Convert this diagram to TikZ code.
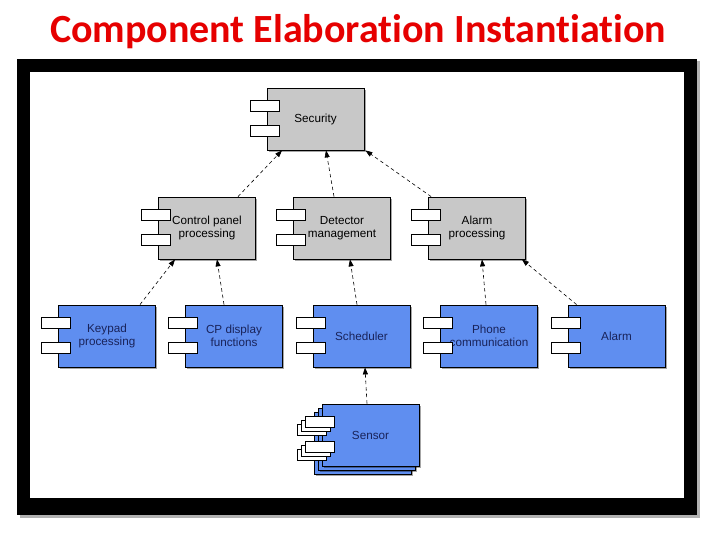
\documentclass[tikz,border=0pt]{standalone}
\usepackage{fontspec}
\setmainfont{Liberation Sans}
\newfontfamily\titlefont[Ligatures=NoCommon]{Carlito}
\usetikzlibrary{arrows.meta,shadows}
\definecolor{titlered}{RGB}{230,0,0}
\definecolor{boxgray}{RGB}{200,200,200}
\definecolor{boxblue}{RGB}{95,142,240}
\definecolor{navytext}{RGB}{25,35,90}
\newcommand\compports[1]{%
  \draw[port] ([xshift=-16.5pt,yshift=-13pt]#1.north west) rectangle ++(29pt,-11pt);
  \draw[port] ([xshift=-16.5pt,yshift=-38pt]#1.north west) rectangle ++(29pt,-11pt);}
\begin{document}
\begin{tikzpicture}[x=1pt,y=-1pt,
  comp/.style={draw=black, line width=0.8pt, minimum width=97pt, minimum height=62pt,
    inner sep=0pt, align=center, font=\fontsize{11.7}{13.5}\selectfont,
    drop shadow={shadow xshift=1.5pt, shadow yshift=-2pt, opacity=0.35, fill=black}},
  graycomp/.style={comp, fill=boxgray, text=black},
  bluecomp/.style={comp, fill=boxblue, text=navytext},
  port/.style={draw=black, line width=0.8pt, fill=white},
  dep/.style={draw=black, line width=0.6pt, dash pattern=on 3.5pt off 3pt,
    -{Triangle[length=7pt,width=5pt]}}
]
\useasboundingbox (0,0) rectangle (720,540);
\fill[white] (0,0) rectangle (720,540);
% title
\node[font=\titlefont\bfseries\fontsize{40}{42}\selectfont, text=titlered] (title) at (358,32) {Component Elaboration Instantiation};
% page number (mostly hidden)
\node[font=\fontsize{7}{8}\selectfont, text=gray!50] (pg) at (668,515) {13};
% frame
\fill[gray!60] (19.5,61.5) rectangle (699.5,517.5);
\fill[black] (17,59) rectangle (697,515);
\fill[white] (30,72) rectangle (684,498);
% components
\node[graycomp] (sec) at (315.5,119) {Security};
\node[graycomp] (cp) at (207,228) {Control panel\\processing};
\node[graycomp] (det) at (342,228) {Detector\\management};
\node[graycomp] (alp) at (477,228) {Alarm\\processing};
\node[bluecomp] (kp) at (107,336) {Keypad\\processing};
\node[bluecomp] (cpd) at (234,336) {CP display\\functions};
\node[bluecomp] (sch) at (361.5,336) {Scheduler};
\node[bluecomp] (ph) at (489,336) {Phone\\communication};
\node[bluecomp] (al) at (616.5,336) {Alarm};
% sensor stack
\node[bluecomp] (sen3) at (362.5,443) {};
\node[bluecomp] (sen2) at (366.5,439) {};
\node[bluecomp] (sen) at (370.5,435) {Sensor};
% ports
\compports{sec}
\compports{cp}
\compports{det}
\compports{alp}
\compports{kp}
\compports{cpd}
\compports{sch}
\compports{ph}
\compports{al}
\compports{sen3}
\compports{sen2}
\compports{sen}
% dependencies
\draw[dep] ([xshift=31pt]cp.north) -- ([xshift=-33.5pt]sec.south);
\draw[dep] ([xshift=-8pt]det.north) -- ([xshift=10.5pt]sec.south);
\draw[dep] ([xshift=3pt]alp.north west) -- ([xshift=1pt]sec.south east);
\draw[dep] ([xshift=33pt]kp.north) -- ([xshift=-32pt]cp.south);
\draw[dep] ([xshift=-10pt]cpd.north) -- ([xshift=10pt]cp.south);
\draw[dep] ([xshift=-4.5pt]sch.north) -- ([xshift=8pt]det.south);
\draw[dep] ([xshift=-3pt]ph.north) -- ([xshift=5pt]alp.south);
\draw[dep] ([xshift=9pt]al.north west) -- ([xshift=-4pt]alp.south east);
\draw[dep] ([xshift=-3.5pt]sen.north) -- ([xshift=3.5pt]sch.south);
\end{tikzpicture}
\end{document}
